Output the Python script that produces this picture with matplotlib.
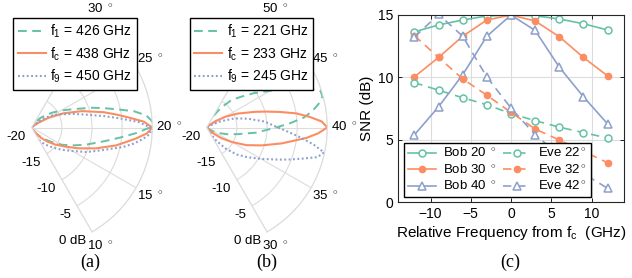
import numpy as np
import matplotlib
matplotlib.use("Agg")
import matplotlib.pyplot as plt

plt.rcParams['font.family'] = ['Liberation Sans', 'DejaVu Sans']
plt.rcParams['mathtext.fontset'] = 'custom'
plt.rcParams['mathtext.rm'] = 'Liberation Sans'
plt.rcParams['mathtext.it'] = 'Liberation Sans:italic'
plt.rcParams['mathtext.bf'] = 'Liberation Sans:bold'

GREEN = '#66c2a5'
ORANGE = '#fc8d62'
BLUE = '#8da0cb'
GRID = '#dcdcdc'

# ---- (a) beam patterns around 20 deg (theta in deg, gain in dB) ----
a_theta_f1 = [10, 11, 12, 13, 14, 15, 16, 17, 18, 18.5, 19, 19.5, 20, 20.5, 21, 21.5, 22, 22.5, 23, 24, 25, 26, 27, 28, 30]
a_db_f1 = [-19.3, -18.8, -18.1, -17.1, -15.9, -14.3, -12.7, -10.7, -8.4, -6.8, -4.9, -2.6, -0.4, 0, -0.9, -2.8, -5.5, -7.6, -9.4,
           -12.5, -14.4, -15.8, -17.0, -17.9, -19.2]
a_theta_fc = [10, 11, 12, 13, 14, 15, 16, 17, 18, 18.5, 19, 19.5, 20, 20.5, 21, 21.5, 22, 23, 24, 25, 26, 27, 28, 30]
a_db_fc = [-19.5, -18.8, -17.7, -16.5, -15.2, -13.7, -11.5, -8.8, -5.7, -4.3, -2.6, -0.9, 0, -1.4, -3.9, -6.0, -7.8, -11.2,
           -14.2, -16.8, -18.6, -19.6, -20, -20]
a_theta_f9 = [10, 11, 12, 13, 14, 15, 16, 17, 18, 18.5, 19, 19.5, 20, 20.5, 21, 21.5, 22, 23, 24, 25, 26, 27, 28, 30]
a_db_f9 = [-17.6, -16.8, -15.9, -14.9, -13.7, -12.2, -10.0, -7.8, -4.5, -2.9, -1.5, -0.3, -0.3, -2.3, -5.4, -7.9, -10.0, -12.7,
           -14.6, -15.9, -17.2, -18.5, -19.5, -20]
a_labels = ['f$_\\mathrm{1}$ = 426 GHz', 'f$_\\mathrm{c}$ = 438 GHz', 'f$_\\mathrm{9}$ = 450 GHz']

# ---- (b) beam patterns around 40 deg ----
b_theta_f1 = [30, 33, 34, 35, 36, 37, 38, 39, 40, 40.5, 41, 41.5, 42, 42.5, 43, 43.5, 44, 45, 46, 47, 48, 49, 50]
b_db_f1 = [-20, -20, -19.5, -18.7, -17.7, -16.4, -14.7, -11.8, -8.5, -6.1, -3.7, -2.2, -1.0, -0.1, -0.2, -2.0, -3.9, -7.8,
           -10.3, -12.4, -13.9, -15.9, -17.8]
b_theta_fc = [30, 32, 33, 34, 35, 36, 37, 38, 39, 39.5, 40, 40.5, 41, 41.5, 42, 42.5, 43, 44, 45, 46, 47, 48, 50]
b_db_fc = [-20, -19.5, -18.6, -17.0, -15.2, -12.8, -10.4, -7.3, -3.4, -1.5, 0, -0.9, -2.9, -5.0, -7.6, -9.8, -11.6, -14.3,
           -16.4, -18.2, -19.4, -20, -20]
b_theta_f9 = [30, 31, 32, 33, 34, 35, 36, 36.5, 37, 37.5, 38, 38.5, 39, 39.5, 40, 41, 42, 43, 44, 45, 46, 48, 50]
b_db_f9 = [-19, -17.3, -15.3, -13.3, -11.6, -9.6, -6.9, -5.2, -3.3, -1.0, -0.1, -2.1, -4.4, -6.5, -8.2, -10.4, -13.0, -15.1,
           -17.4, -19.2, -20, -20, -20]
b_labels = ['f$_\\mathrm{1}$ = 221 GHz', 'f$_\\mathrm{c}$ = 233 GHz', 'f$_\\mathrm{9}$ = 245 GHz']

# ---- (c) SNR vs relative frequency ----
rel_freq = [-12, -9, -6, -3, 0, 3, 6, 9, 12]
bob20 = [13.65, 14.2, 14.6, 14.92, 15.0, 14.94, 14.68, 14.3, 13.8]
bob30 = [10.05, 11.6, 13.3, 14.6, 15.0, 14.52, 13.26, 11.6, 10.12]
bob40 = [5.4, 7.65, 10.22, 13.3, 15.0, 13.76, 10.82, 8.45, 6.28]
eve22 = [9.58, 8.98, 8.37, 7.82, 7.1, 6.54, 6.02, 5.58, 5.15]
eve32 = [13.35, 11.6, 9.88, 8.57, 7.2, 5.87, 4.99, 4.08, 3.17]
eve42 = [13.22, 15.05, 13.3, 10.03, 7.55, 5.4, 3.8, 2.3, 1.12]

fig = plt.figure(figsize=(6.32, 2.78), dpi=100)
W, H = 632.0, 278.0


def polar_panel(cx, cy, R, center, ticklbl, curves, labels, leg_xy):
    side = 2 * R * np.sin(np.deg2rad(60))
    left = cx + R / 2 - side / 2
    ax = fig.add_axes([left / W, (H - cy - side / 2) / H, side / W, side / H], projection='polar')
    ax.set_thetamin(-60)
    ax.set_thetamax(60)
    styles = [dict(color=GREEN, ls=(0, (4.5, 2.8)), lw=1.4),
              dict(color=ORANGE, ls='-', lw=1.5),
              dict(color=BLUE, ls=(0, (0.9, 1.2)), lw=1.5)]
    handles = []
    for (th, db), st, lab in zip(curves, styles, labels):
        vis = np.deg2rad((np.asarray(th) - center) * 6)
        h, = ax.plot(vis, db, label=lab, **st)
        handles.append(h)
    ax.set_rlim(-20, 0)
    ax.set_thetagrids([-60, -30, 0, 30, 60], labels=ticklbl)
    ax.set_rgrids([-20, -15, -10, -5, 0], labels=['-20', '-15', '-10', '-5', '0 dB'])
    ax.grid(color=GRID, lw=0.8)
    for sp in ax.spines.values():
        sp.set_color(GRID)
        sp.set_linewidth(0.8)
    ax.tick_params(labelsize=9.5, pad=1.5)
    fig.legend(handles=handles, loc='upper left', bbox_to_anchor=(leg_xy[0] / W, 1 - leg_xy[1] / H),
               bbox_transform=fig.transFigure, borderaxespad=0, fontsize=10, frameon=True,
               fancybox=False, framealpha=1, edgecolor='black', handlelength=2.0, handletextpad=0.35,
               labelspacing=0.35, borderpad=0.35)
    return ax


deg = '$^\\circ$'
ax_a = polar_panel(31.7, 127.5, 120.6, 20, ['10 ' + deg, '15 ' + deg, '20 ' + deg, '25 ' + deg, '30 ' + deg],
                   [(a_theta_f1, a_db_f1), (a_theta_fc, a_db_fc), (a_theta_f9, a_db_f9)], a_labels, (13, 18))
ax_b = polar_panel(206.7, 127.5, 120.6, 40, ['30 ' + deg, '35 ' + deg, '40 ' + deg, '45 ' + deg, '50 ' + deg],
                   [(b_theta_f1, b_db_f1), (b_theta_fc, b_db_fc), (b_theta_f9, b_db_f9)], b_labels, (189.5, 18))

# ---- panel (c) ----
axc = fig.add_axes([398.3 / W, (H - 202.3) / H, 225.4 / W, 187.3 / H])
ms = 5
axc.plot(rel_freq, bob20, '-o', color=GREEN, lw=1.2, ms=ms, mfc='white', mew=1.1, label='Bob 20 ' + deg)
axc.plot(rel_freq, bob30, '-o', color=ORANGE, lw=1.2, ms=4.5, mfc=ORANGE, mew=1.0, label='Bob 30 ' + deg)
axc.plot(rel_freq, bob40, '-^', color=BLUE, lw=1.2, ms=6, mfc='white', mew=1.1, label='Bob 40 ' + deg)
axc.plot(rel_freq, eve22, '--o', color=GREEN, lw=1.2, ms=ms, mfc='white', mew=1.1, dashes=(5, 3.5), label='Eve 22' + deg)
axc.plot(rel_freq, eve32, '--o', color=ORANGE, lw=1.2, ms=4.5, mfc=ORANGE, mew=1.0, dashes=(5, 3.5), label='Eve 32' + deg)
axc.plot(rel_freq, eve42, '--^', color=BLUE, lw=1.2, ms=6, mfc='white', mew=1.1, dashes=(5, 3.5), label='Eve 42' + deg)
axc.set_xlim(-14, 14)
axc.set_ylim(0, 15)
axc.set_xticks([-10, -5, 0, 5, 10])
axc.set_yticks([0, 5, 10, 15])
axc.grid(color=GRID, lw=0.8)
axc.set_axisbelow(True)
axc.tick_params(direction='in', top=True, right=True, length=3, labelsize=10, width=0.6)
for sp in axc.spines.values():
    sp.set_linewidth(0.8)
    sp.set_color('#262626')
axc.set_xlabel('Relative Frequency from f$_\\mathrm{c}$  (GHz)', fontsize=11, labelpad=2)
axc.set_ylabel('SNR (dB)', fontsize=11, labelpad=3)
axc.legend(loc='lower left', bbox_to_anchor=(404.3 / W, 1 - 197.3 / H), bbox_transform=fig.transFigure,
           borderaxespad=0, ncol=2, fontsize=9.5, fancybox=False, framealpha=1, edgecolor='black',
           handlelength=2.1, handletextpad=0.55, columnspacing=0.5, labelspacing=0.2, borderpad=0.3)

# panel captions
for x, s in [(90, '(a)'), (267, '(b)'), (510, '(c)')]:
    fig.text(x / W, 1 - 262 / H, s, ha='center', va='center', fontsize=13, family='Liberation Serif')

fig.savefig('out.png', dpi=100)
